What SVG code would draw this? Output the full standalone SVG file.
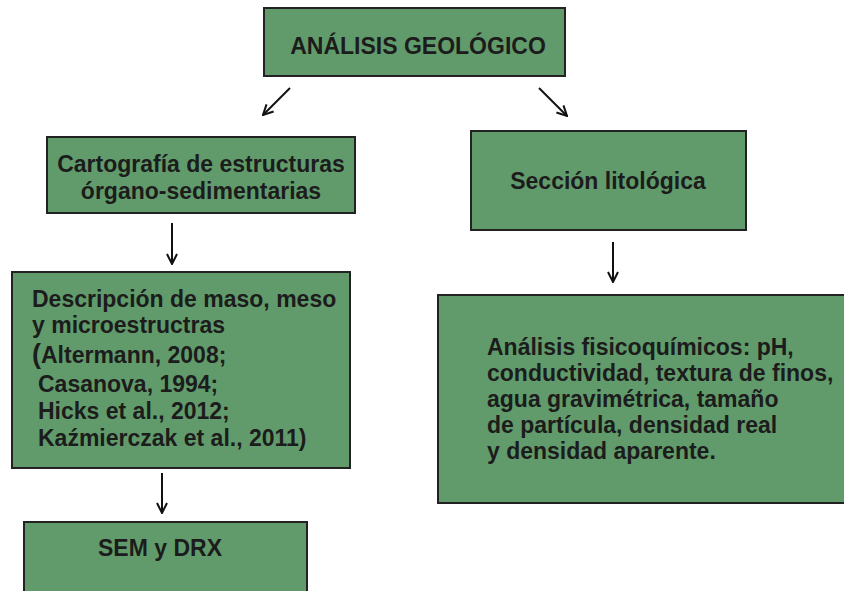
<svg xmlns="http://www.w3.org/2000/svg" width="844" height="591" viewBox="0 0 844 591">
<defs>
<style>
.box{fill:#619b6b;stroke:#222;stroke-width:2}
.t{font-family:"Liberation Sans",Arial,sans-serif;font-weight:bold;font-size:23px;fill:#1c1c1c}
.c{stroke:#111;stroke-width:2;fill:none}
</style>
<marker id="ah" viewBox="0 0 12 12" refX="11" refY="6" markerWidth="12" markerHeight="12" markerUnits="userSpaceOnUse" orient="auto">
<path d="M1,1 L11,6 L1,11" fill="none" stroke="#111" stroke-width="2"/>
</marker>
</defs>
<rect width="844" height="591" fill="#fff"/>
<g id="connectors">
<line class="c" x1="290" y1="88" x2="263" y2="115" marker-end="url(#ah)"/>
<line class="c" x1="539" y1="88" x2="567" y2="116" marker-end="url(#ah)"/>
<line class="c" x1="172" y1="223" x2="172" y2="264" marker-end="url(#ah)"/>
<line class="c" x1="613" y1="242" x2="613" y2="282" marker-end="url(#ah)"/>
<line class="c" x1="162" y1="473" x2="162" y2="513" marker-end="url(#ah)"/>
</g>
<g id="n-analisis">
<rect class="box" x="264" y="8" width="301" height="68"/>
<text class="t" x="418" y="54" text-anchor="middle">ANÁLISIS GEOLÓGICO</text>
</g>
<g id="n-cartografia">
<rect class="box" x="47" y="137" width="308" height="76"/>
<text class="t" x="201" y="172" text-anchor="middle">Cartografía de estructuras</text>
<text class="t" x="201" y="199" text-anchor="middle">órgano-sedimentarias</text>
</g>
<g id="n-seccion">
<rect class="box" x="471" y="131" width="275" height="99"/>
<text class="t" x="608" y="189" text-anchor="middle">Sección litológica</text>
</g>
<g id="n-descripcion">
<rect class="box" x="12" y="272" width="338" height="196"/>
<text class="t" x="32" y="307">Descripción de maso, meso</text>
<text class="t" x="32" y="333">y microestructras</text>
<text class="t" x="32" y="363"><tspan font-size="27">(</tspan>Altermann, 2008;</text>
<text class="t" x="38" y="392">Casanova, 1994;</text>
<text class="t" x="38" y="419">Hicks et al., 2012;</text>
<text class="t" x="38" y="446">Kaźmierczak et al., 2011)</text>
</g>
<g id="n-fisico">
<rect class="box" x="438" y="295" width="410" height="208"/>
<text class="t" x="487" y="355">Análisis fisicoquímicos: pH,</text>
<text class="t" x="487" y="381">conductividad, textura de finos,</text>
<text class="t" x="487" y="407">agua gravimétrica, tamaño</text>
<text class="t" x="487" y="433">de partícula, densidad real</text>
<text class="t" x="487" y="459">y densidad aparente.</text>
</g>
<g id="n-sem">
<rect class="box" x="24" y="522" width="283" height="80"/>
<text class="t" x="160" y="556" text-anchor="middle">SEM y DRX</text>
</g>
</svg>
